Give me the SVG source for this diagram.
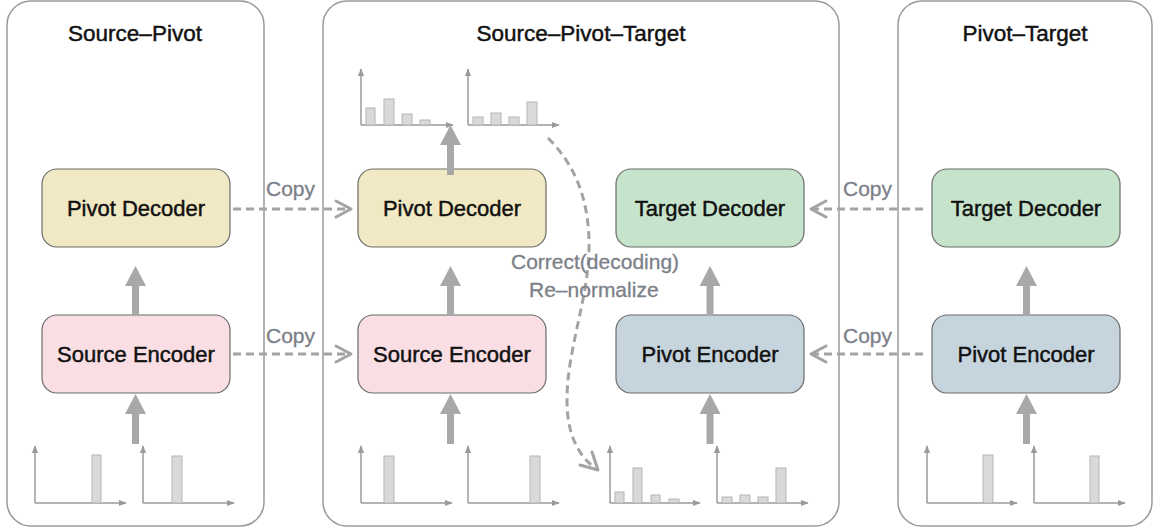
<svg xmlns="http://www.w3.org/2000/svg" width="1156" height="528" viewBox="0 0 1156 528">
<defs>
<style>
.panel{fill:#fff;stroke:#9a9a9a;stroke-width:1.5}
.box{stroke:#6b6b6b;stroke-width:1.2}
.pd{fill:#f1e9c3}.se{fill:#f9dee3}.td{fill:#c6e4cc}.pe{fill:#c6d5dd}
.t{font-family:"Liberation Sans",Arial,sans-serif;font-size:22px;fill:#111;stroke:#111;stroke-width:0.45;text-anchor:middle}
.title{font-family:"Liberation Sans",Arial,sans-serif;font-size:22.5px;fill:#111;stroke:#111;stroke-width:0.45;text-anchor:middle}
.lab{font-family:"Liberation Sans",Arial,sans-serif;font-size:21px;fill:#7c8088;stroke:#7c8088;stroke-width:0.3}
.big{fill:#a8a8a8}
.axis{stroke:#9a9a9a;stroke-width:1.5;fill:none}
.bar{fill:#d9d9d9;stroke:#b5b5b5;stroke-width:1}
.dash{stroke:#a3a3a3;stroke-width:3;fill:none;stroke-dasharray:8 5}
.chev{stroke:#a3a3a3;stroke-width:3;fill:none;stroke-linecap:round;stroke-linejoin:round}
</style>
<marker id="ah" viewBox="0 0 10 10" refX="9" refY="5" markerWidth="8" markerHeight="8" markerUnits="userSpaceOnUse" orient="auto"><path d="M0,1 L10,5 L0,9 z" fill="#9a9a9a"/></marker>
<g id="bigup"><path d="M-3.5,0 L-3.5,-30 L-10.5,-30 L0,-50 L10.5,-30 L3.5,-30 L3.5,0 z"/></g>
</defs>

<g id="panel-source-pivot">
<rect class="panel" x="7" y="1" width="257" height="525" rx="24"/>
<text class="title" x="135" y="41">Source–Pivot</text>
</g>
<g id="panel-source-pivot-target">
<rect class="panel" x="323" y="1" width="516" height="525" rx="24"/>
<text class="title" x="581" y="41">Source–Pivot–Target</text>
</g>
<g id="panel-pivot-target">
<rect class="panel" x="898" y="1" width="254" height="525" rx="24"/>
<text class="title" x="1025" y="41">Pivot–Target</text>
</g>

<g id="n1-pivot-decoder"><rect class="box pd" x="42" y="169" width="188" height="78" rx="15"/><text class="t" x="136" y="216">Pivot Decoder</text></g>
<g id="n1-source-encoder"><rect class="box se" x="42" y="315" width="188" height="78" rx="15"/><text class="t" x="136" y="362">Source Encoder</text></g>
<g id="n2-pivot-decoder"><rect class="box pd" x="358" y="169" width="188" height="78" rx="15"/><text class="t" x="452" y="216">Pivot Decoder</text></g>
<g id="n2-source-encoder"><rect class="box se" x="358" y="315" width="188" height="78" rx="15"/><text class="t" x="452" y="362">Source Encoder</text></g>
<g id="n2-target-decoder"><rect class="box td" x="616" y="169" width="188" height="78" rx="15"/><text class="t" x="710" y="216">Target Decoder</text></g>
<g id="n2-pivot-encoder"><rect class="box pe" x="616" y="315" width="188" height="78" rx="15"/><text class="t" x="710" y="362">Pivot Encoder</text></g>
<g id="n3-target-decoder"><rect class="box td" x="932" y="169" width="188" height="78" rx="15"/><text class="t" x="1026" y="216">Target Decoder</text></g>
<g id="n3-pivot-encoder"><rect class="box pe" x="932" y="315" width="188" height="78" rx="15"/><text class="t" x="1026" y="362">Pivot Encoder</text></g>

<g id="charts">
<path class="axis" d="M35,503 H126" marker-end="url(#ah)"/><path class="axis" d="M35,503 V446" marker-end="url(#ah)"/>
<rect class="bar" x="92" y="455" width="9" height="48"/>
<path class="axis" d="M143,503 H234" marker-end="url(#ah)"/><path class="axis" d="M143,503 V446" marker-end="url(#ah)"/>
<rect class="bar" x="172" y="456" width="10" height="47"/>
<path class="axis" d="M361,503 H452" marker-end="url(#ah)"/><path class="axis" d="M361,503 V446" marker-end="url(#ah)"/>
<rect class="bar" x="384" y="456" width="10" height="47"/>
<path class="axis" d="M468,503 H559" marker-end="url(#ah)"/><path class="axis" d="M468,503 V446" marker-end="url(#ah)"/>
<rect class="bar" x="530" y="456" width="10" height="47"/>
<path class="axis" d="M610,503 H700" marker-end="url(#ah)"/><path class="axis" d="M610,503 V446" marker-end="url(#ah)"/>
<rect class="bar" x="615" y="492" width="9" height="11"/>
<rect class="bar" x="633" y="468" width="9" height="35"/>
<rect class="bar" x="651" y="495" width="9" height="8"/>
<rect class="bar" x="669" y="499" width="10" height="4"/>
<path class="axis" d="M717,503 H808" marker-end="url(#ah)"/><path class="axis" d="M717,503 V446" marker-end="url(#ah)"/>
<rect class="bar" x="722" y="497" width="10" height="6"/>
<rect class="bar" x="740" y="495" width="10" height="8"/>
<rect class="bar" x="758" y="497" width="10" height="6"/>
<rect class="bar" x="776" y="468" width="10" height="35"/>
<path class="axis" d="M361,125 H453" marker-end="url(#ah)"/><path class="axis" d="M361,125 V69" marker-end="url(#ah)"/>
<rect class="bar" x="366" y="108" width="9" height="17"/>
<rect class="bar" x="384" y="99" width="10" height="26"/>
<rect class="bar" x="402" y="114" width="10" height="11"/>
<rect class="bar" x="420" y="120" width="10" height="5"/>
<path class="axis" d="M468,125 H559" marker-end="url(#ah)"/><path class="axis" d="M468,125 V69" marker-end="url(#ah)"/>
<rect class="bar" x="473" y="117" width="10" height="8"/>
<rect class="bar" x="491" y="113" width="10" height="12"/>
<rect class="bar" x="509" y="117" width="10" height="8"/>
<rect class="bar" x="527" y="102" width="10" height="23"/>
<path class="axis" d="M927,503 H1017" marker-end="url(#ah)"/><path class="axis" d="M927,503 V446" marker-end="url(#ah)"/>
<rect class="bar" x="983" y="455" width="10" height="48"/>
<path class="axis" d="M1034,503 H1125" marker-end="url(#ah)"/><path class="axis" d="M1034,503 V446" marker-end="url(#ah)"/>
<rect class="bar" x="1090" y="456" width="9" height="47"/>
</g>

<g id="connectors">
<g class="big">
<use href="#bigup" transform="translate(135.5,444)"/>
<use href="#bigup" transform="translate(135.5,316)"/>
<use href="#bigup" transform="translate(450.5,444)"/>
<use href="#bigup" transform="translate(450.5,316)"/>
<use href="#bigup" transform="translate(450.5,175)"/>
<use href="#bigup" transform="translate(710,444)"/>
<use href="#bigup" transform="translate(710,316)"/>
<use href="#bigup" transform="translate(1026.5,444)"/>
<use href="#bigup" transform="translate(1026.5,316)"/>
</g>
<path class="dash" d="M233,209 H349"/><path class="chev" d="M336,201 L351,209 L336,217"/>
<path class="dash" d="M233,354 H349"/><path class="chev" d="M336,346 L351,354 L336,362"/>
<path class="dash" d="M923,209 H813"/><path class="chev" d="M826,201 L811,209 L826,217"/>
<path class="dash" d="M923,354 H813"/><path class="chev" d="M826,346 L811,354 L826,362"/>
<path class="dash" d="M548,138 C575,165 590,200 589,250 C588,300 567,350 567,400 C567,435 578,455 596,469"/>
<path class="chev" d="M592,452 L598,470 L580,465"/>
</g>

<g id="labels">
<text class="lab" x="266" y="196">Copy</text>
<text class="lab" x="266" y="343">Copy</text>
<text class="lab" x="843" y="196">Copy</text>
<text class="lab" x="843" y="343">Copy</text>
<text class="lab" x="511" y="269">Correct(decoding)</text>
<text class="lab" x="529" y="297">Re–normalize</text>
</g>
</svg>
